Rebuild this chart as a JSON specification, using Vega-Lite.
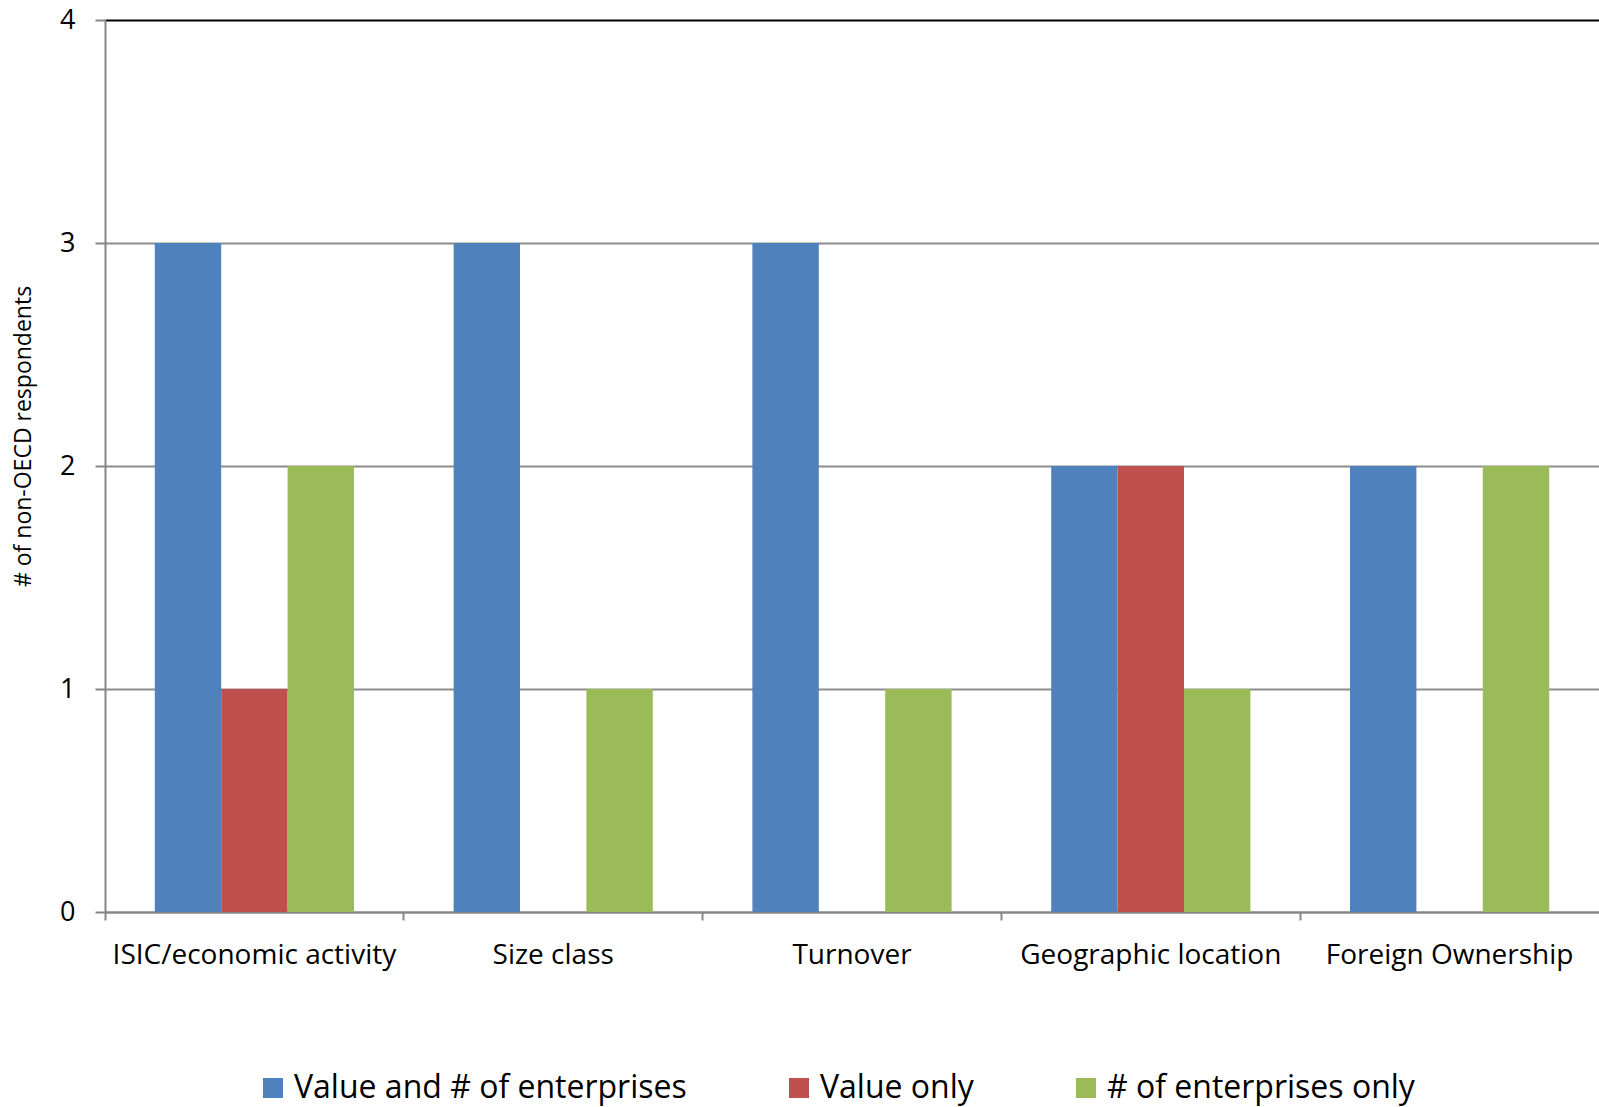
{
  "$schema": "https://vega.github.io/schema/vega-lite/v6.json",
  "width": 1494,
  "height": 892,
  "autosize": {"type": "none"},
  "padding": {"left": 105, "top": 20, "right": 0, "bottom": 195},
  "background": "white",
  "config": {"view": {"stroke": null}, "font": "Open Sans"},
  "data": {
    "values": [
      {"category": "ISIC/economic activity", "series": "Value and # of enterprises", "count": 3},
      {"category": "ISIC/economic activity", "series": "Value only", "count": 1},
      {"category": "ISIC/economic activity", "series": "# of enterprises only", "count": 2},
      {"category": "Size class", "series": "Value and # of enterprises", "count": 3},
      {"category": "Size class", "series": "Value only", "count": 0},
      {"category": "Size class", "series": "# of enterprises only", "count": 1},
      {"category": "Turnover", "series": "Value and # of enterprises", "count": 3},
      {"category": "Turnover", "series": "Value only", "count": 0},
      {"category": "Turnover", "series": "# of enterprises only", "count": 1},
      {"category": "Geographic location", "series": "Value and # of enterprises", "count": 2},
      {"category": "Geographic location", "series": "Value only", "count": 2},
      {"category": "Geographic location", "series": "# of enterprises only", "count": 1},
      {"category": "Foreign Ownership", "series": "Value and # of enterprises", "count": 2},
      {"category": "Foreign Ownership", "series": "Value only", "count": 0},
      {"category": "Foreign Ownership", "series": "# of enterprises only", "count": 2}
    ]
  },
  "mark": {"type": "bar", "stroke": null},
  "encoding": {
    "x": {
      "field": "category",
      "type": "nominal",
      "sort": ["ISIC/economic activity", "Size class", "Turnover", "Geographic location", "Foreign Ownership"],
      "scale": {"paddingInner": 0, "paddingOuter": 0},
      "axis": {
        "title": null,
        "labelAngle": 0,
        "labelFontSize": 28,
        "labelColor": "black",
        "labelPadding": 21,
        "labelLimit": 400,
        "bandPosition": 0,
        "tickSize": 8,
        "tickWidth": 2,
        "tickColor": "#868686",
        "domainColor": "#868686",
        "domainWidth": 2,
        "grid": false
      }
    },
    "xOffset": {
      "field": "series",
      "type": "nominal",
      "sort": ["Value and # of enterprises", "Value only", "# of enterprises only"],
      "scale": {"paddingInner": 0, "paddingOuter": 0.75}
    },
    "y": {
      "field": "count",
      "type": "quantitative",
      "scale": {"domain": [0, 4], "nice": false},
      "axis": {
        "values": [0, 1, 2, 3, 4],
        "format": "d",
        "title": "# of non-OECD respondents",
        "titleFontSize": 23,
        "titleFontWeight": "normal",
        "titleColor": "black",
        "titleAngle": -90,
        "titleX": -82,
        "titleY": 416,
        "titleAlign": "center",
        "titleBaseline": "middle",
        "labelFontSize": 27,
        "labelColor": "black",
        "labelPadding": 20,
        "tickSize": 10,
        "tickWidth": 2,
        "tickColor": "#868686",
        "domainColor": "#868686",
        "domainWidth": 2,
        "grid": true,
        "gridWidth": 2,
        "gridColor": {"condition": {"test": "datum.value == 4", "value": "black"}, "value": "#8c8c8c"}
      }
    },
    "color": {
      "field": "series",
      "type": "nominal",
      "sort": ["Value and # of enterprises", "Value only", "# of enterprises only"],
      "scale": {
        "domain": ["Value and # of enterprises", "Value only", "# of enterprises only"],
        "range": ["#4F81BD", "#C0504D", "#9BBB59"]
      },
      "legend": {
        "title": null,
        "orient": "none",
        "direction": "horizontal",
        "legendX": 152,
        "legendY": 1052,
        "symbolType": "square",
        "symbolSize": 400,
        "symbolStrokeWidth": 0,
        "symbolOpacity": 1,
        "labelFontSize": 32,
        "labelColor": "black",
        "labelOffset": 5,
        "columnPadding": 96,
        "labelLimit": 600
      }
    }
  }
}
